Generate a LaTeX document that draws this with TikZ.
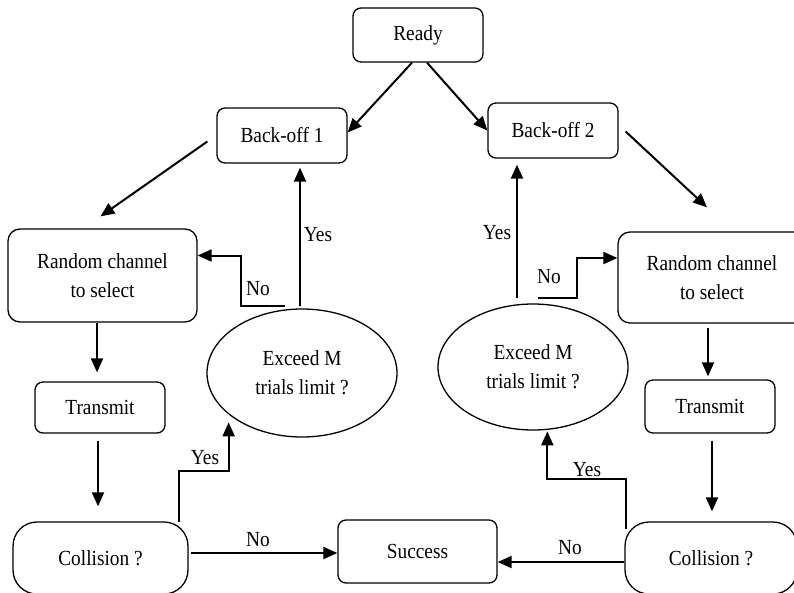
\documentclass[tikz,border=0pt]{standalone}
\usepackage{fontspec}
\setmainfont{Liberation Serif}[FakeStretch=0.9]
\usetikzlibrary{shapes.geometric,arrows.meta,calc}

\begin{document}
\begin{tikzpicture}[x=1pt,y=-1pt,
  txt/.style={font=\fontsize{21.5}{29}\selectfont},
  box/.style={txt, draw, rounded corners=8pt, line width=1.3pt, inner sep=0pt, align=center},
  pill/.style={box, rounded corners=24pt},
  oval/.style={txt, draw, ellipse, line width=1.3pt, inner sep=0pt, align=center},
  arr/.style={line width=2pt, -{Triangle[length=14pt,width=12pt]}},
  lbl/.style={txt, inner sep=0pt}]

\useasboundingbox (0,0) rectangle (794,592);
\clip (0,0) rectangle (794,592);

% states
\node[box, minimum width=130pt, minimum height=54pt] (ready) at (418,35) {Ready};
\node[box, minimum width=130pt, minimum height=55pt] (b1) at (282,135.5) {Back-off 1};
\node[box, minimum width=130pt, minimum height=55pt] (b2) at (553,130.5) {Back-off 2};
\node[box, rounded corners=12pt, minimum width=189pt, minimum height=93pt] (rc1) at (102.5,275.5) {Random channel\\to select};
\node[box, rounded corners=12pt, minimum width=188pt, minimum height=91pt] (rc2) at (712,277.5) {Random channel\\to select};
\node[box, minimum width=130pt, minimum height=51pt] (t1) at (100,407.5) {Transmit};
\node[box, minimum width=130pt, minimum height=53pt] (t2) at (710,406.5) {Transmit};
\node[pill, minimum width=175pt, minimum height=72pt] (c1) at (100.5,558) {Collision ?};
\node[pill, minimum width=172pt, minimum height=72pt] (c2) at (711,558) {Collision ?};
\node[box, minimum width=159pt, minimum height=63pt] (s) at (417.5,551.5) {Success};
\node[oval, minimum width=190pt, minimum height=128pt] (e1) at (302,373) {Exceed M\\trials limit ?};
\node[oval, minimum width=190pt, minimum height=126pt] (e2) at (533,367) {Exceed M\\trials limit ?};

% start: both back-off branches
\draw[arr] ($(ready.south)+(-6,0)$) -- ($(b1.east)+(0,-3)$);
\draw[arr] ($(ready.south)+(9,0)$) -- (b2.west);
\draw[arr] ($(b1.west)+(-9,6)$) -- ($(rc1.north)+(-2,-12)$);
\draw[arr] ($(b2.east)+(7,1)$) -- ($(rc2.north)+(-5,-24)$);

% channel -> transmit -> collision
\draw[arr] ($(t1.north|-rc1.south)+(-3,0)$) -- ($(t1.north)+(-3,-9)$);
\draw[arr] ($(t1.south)+(-2,7)$) -- ($(c1.north)+(-2.5,-15)$);
\draw[arr] ($(t2.north|-rc2.south)+(-2,4)$) -- ($(t2.north)+(-2,-3)$);
\draw[arr] ($(t2.south)+(2,7)$) -- ($(c2.north)+(1,-10)$);

% no collision -> success
\draw[arr] ($(c1.east)+(2,-5)$) -- ($(s.west)+(0,1.5)$);
\node[lbl] (noc1) at (258,540) {No};
\draw[arr] ($(c2.west)+(0,4)$) -- ($(s.east)+(0,10.5)$);
\node[lbl] (noc2) at (570,548) {No};

% collision -> trial limit check
\draw[arr] ($(c1.north east)+(-10,1)$) -- ++(0,-51) -- ++(50,0) -- ++(0,-49);
\node[lbl] (yesc1) at (205,458) {Yes};
\draw[arr] ($(c2.north west)+(2,8)$) -- ++(0,-50) -- ++(-79,0) -- ++(0,-48);
\node[lbl] (yesc2) at (587,470) {Yes};

% trial limit check, left branch
\draw[arr] ($(e1.north)+(-17,-2)$) -| ($(rc1.east)+(43,-20)$) -- ($(rc1.east)+(0,-20)$);
\node[lbl] (noe1) at (258,289) {No};
\coordinate (ya) at ($(e1.north)+(-2,-2)$);
\draw[arr, shorten >=4pt] (ya) -- (ya |- b1.south);
\node[lbl] (yese1) at (318,235) {Yes};

% trial limit check, right branch
\draw[arr] ($(e2.north)+(5,-5)$) -| ($(rc2.west)+(-40,-19.5)$) -- ($(rc2.west)+(0,-19.5)$);
\node[lbl] (noe2) at (549,277) {No};
\coordinate (yb) at ($(e2.north)+(-16,-5)$);
\draw[arr, shorten >=6pt] (yb) -- (yb |- b2.south);
\node[lbl] (yese2) at (497,233) {Yes};

\end{tikzpicture}
\end{document}
